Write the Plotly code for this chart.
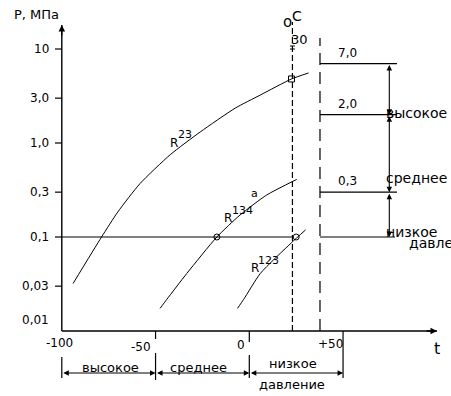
import math
import plotly.graph_objects as go

# ---------------- data ----------------
t_r23 = [-94.0, -78.8, -70.1, -58.3, -42.2, -26.2, -7.5, 5.9, 22.5, 31.6]
p_r23 = [0.032, 0.10, 0.185, 0.37, 0.75, 1.31, 2.35, 3.24, 4.80, 5.56]

t_r134 = [-47.6, -44.0, -33.3, -17.3, -5.0, 9.3, 25.3]
p_r134 = [0.0174, 0.0217, 0.041, 0.10, 0.171, 0.28, 0.41]

t_r123 = [-6.3, -3.0, 5.9, 22.5, 30.0]
p_r123 = [0.0174, 0.0217, 0.041, 0.087, 0.119]

pt_t = [22.5, -17.3, 25.0]
pt_p = [4.8, 0.1, 0.1]
pt_sym = ["square-open", "circle-open", "circle-open"]

y_tick_vals = [10, 3, 1, 0.3, 0.1, 0.03, 0.01]
y_tick_text = ["10", "3,0", "1,0", "0,3", "0,1", "0,03", "0,01"]
x_tick_vals = [-100, -50, 0, 50]
x_tick_text = ["-100", "-50", "0", "+50"]

levels = [7.0, 2.0, 0.3, 0.1]
level_text = ["7,0", "2,0", "0,3"]
level_names = ["высокое", "среднее", "низкое", "давление"]
bottom_zones = [(-100, -50, "высокое"), (-50, 0, "среднее"), (0, 50, "низкое")]

t_ref = 23.0      # short-dashed line (labelled 30 °C)
t_lim = 37.7      # long-dashed line
p_base = 0.1

# ---------------- geometry helpers ----------------
W, H = 451, 396
X0, SX = 249.3, 1.875        # pixel of t=0, px per degree
Y1, SY = 237.0, 94.0         # pixel of P=0.1, px per decade

def px2t(px):
    return (px - X0) / SX

def py2lg(py):
    return -1 + (Y1 - py) / SY

def pyp(py):
    return 1 - py / H

def pxp(px):
    return px / W

FONT = "DejaVu Sans"
fig = go.Figure()

def line(x, y, width=1.0, dash=None, shape="linear"):
    fig.add_trace(go.Scatter(x=x, y=y, mode="lines", hoverinfo="skip",
                             line=dict(color="black", width=width, dash=dash,
                                       shape=shape)))

# curves
for tt, pp in ((t_r23, p_r23), (t_r134, p_r134), (t_r123, p_r123)):
    line(tt, pp, 1.0, shape="spline")
for tr in fig.data:
    tr.line.smoothing = 0.6

# axes
p_top = 10 ** py2lg(25)
line([-100, -100], [0.01, p_top], 1.4)
t_right = px2t(437)
line([-100, t_right], [0.01, 0.01], 1.4)

# y ticks
tx, ty = [], []
for v in y_tick_vals[:-1]:
    tx += [px2t(55), -100, None]
    ty += [v, v, None]
line(tx, ty, 1.2)

# base 0.1 line (main field + right part)
line([-100, t_ref], [p_base, p_base], 1.2)
line([t_lim, px2t(395)], [p_base, p_base], 1.2)
# level lines on the right
for lv in levels[:-1]:
    line([t_lim, px2t(397)], [lv, lv], 1.2)

# dashed verticals
line([t_ref, t_ref], [0.01, 10 ** py2lg(22)], 1.2, "6px,3px")
line([t_lim, t_lim], [0.01, 10 ** py2lg(38)], 1.2, "12px,7px")
# small marks on the 30° line
line([t_ref - 1.3, t_ref + 1.3, None, t_ref - 1.3, t_ref + 1.3],
     [10 ** py2lg(46), 10 ** py2lg(46), None, 10 ** py2lg(49), 10 ** py2lg(49)], 1.0)

# points
fig.add_trace(go.Scatter(x=pt_t, y=pt_p, mode="markers", hoverinfo="skip",
                         marker=dict(symbol=pt_sym, size=6, color="black",
                                     line=dict(color="black", width=1))))

shapes = []
def vseg(t, py0, py1, w=1.2):
    shapes.append(dict(type="line", xref="x", yref="paper", x0=t, x1=t,
                       y0=pyp(py0), y1=pyp(py1), line=dict(color="black", width=w)))

# x ticks below axis and bracket verticals
vseg(-50, 331, 339)
vseg(0, 331, 342)
vseg(-100, 357, 378)
vseg(-50, 353, 380)
vseg(0, 355, 378)
vseg(50, 331, 378)

ann = []
def txt(px, py, s, size=12, xanchor="center"):
    ann.append(dict(xref="paper", yref="paper", x=pxp(px), y=pyp(py), text=s,
                    showarrow=False, xanchor=xanchor, yanchor="middle",
                    font=dict(family=FONT, size=size, color="black")))

# axis arrows
ann.append(dict(xref="x", yref="y", x=-100, y=math.log10(p_top), ax=0, ay=12,
                axref="pixel", ayref="pixel", text="", showarrow=True,
                arrowhead=2, arrowsize=1, arrowwidth=1.3, arrowcolor="black"))
ann.append(dict(xref="x", yref="y", x=t_right, y=-2, ax=-12, ay=0,
                axref="pixel", ayref="pixel", text="", showarrow=True,
                arrowhead=2, arrowsize=1, arrowwidth=1.3, arrowcolor="black"))

# bottom double arrows
for a, b, name in bottom_zones:
    ann.append(dict(xref="x", yref="paper", x=b, y=pyp(373), axref="x", ax=a,
                    ayref="pixel", ay=0, text="", showarrow=True,
                    arrowside="end+start", arrowhead=2, startarrowhead=2,
                    arrowsize=1, startarrowsize=1, arrowwidth=1.1,
                    arrowcolor="black", standoff=0, startstandoff=0))

# right vertical double arrows
t_arrow = px2t(389.3)
for hi, lo in zip(levels[:-1], levels[1:]):
    ann.append(dict(xref="x", yref="y", x=t_arrow, y=math.log10(lo),
                    axref="x", ax=t_arrow, ayref="y", ay=math.log10(hi),
                    text="", showarrow=True, arrowside="end+start",
                    arrowhead=2, startarrowhead=2, arrowsize=1, startarrowsize=1,
                    arrowwidth=1.1, arrowcolor="black", standoff=0, startstandoff=0))

# level labels
for lv, s in zip(levels[:-1], level_text):
    ann.append(dict(xref="x", yref="y", x=px2t(347), y=math.log10(lv), yshift=11,
                    text=s, showarrow=False, xanchor="center", yanchor="middle",
                    font=dict(family=FONT, size=12, color="black")))

# y tick labels
for v, s in zip(y_tick_vals, y_tick_text):
    ann.append(dict(xref="paper", yref="y", x=pxp(51), y=math.log10(v),
                    yshift=11 if v == 0.01 else 0, text=s, showarrow=False,
                    xanchor="right", yanchor="middle",
                    font=dict(family=FONT, size=12, color="black")))

# x tick labels
x_lab_pos = [(60, 343), (141, 347), (241, 345), (330, 344)]
for (px, py), s in zip(x_lab_pos, x_tick_text):
    txt(px, py, s, 12)
txt(437, 348, "t", 16)

txt(36, 15, "P, МПа", 13)
txt(287, 22, "o", 15)
txt(297, 16, "C", 14)
txt(299, 39, "30", 13)

# curve labels
txt(174, 143, "R", 12); txt(185, 135, "23", 11)
txt(228, 218, "R", 12); txt(242, 210, "134", 11)
txt(254, 193, "a", 11)
txt(255, 268, "R", 12); txt(268, 260, "123", 11)

# bottom zone labels
txt(110, 367, bottom_zones[0][2], 13)
txt(198, 367, bottom_zones[1][2], 13)
txt(293, 363, bottom_zones[2][2], 13)
txt(292, 384, level_names[3], 13)

# right zone labels
txt(384, 113, level_names[0], 14, "left")
txt(384, 178, level_names[1], 14, "left")
txt(384, 232, level_names[2], 14, "left")
txt(407, 243, level_names[3], 14, "left")

fig.update_layout(
    width=W, height=H, margin=dict(l=0, r=0, t=0, b=0),
    paper_bgcolor="white", plot_bgcolor="white", showlegend=False,
    xaxis=dict(range=[px2t(0), px2t(W)], visible=False, fixedrange=True),
    yaxis=dict(type="log", range=[py2lg(H), py2lg(0)], visible=False, fixedrange=True),
    shapes=shapes, annotations=ann,
)

fig.write_html("out.html", config={"displayModeBar": False, "staticPlot": True},
               post_script="document.body.style.margin='0';document.body.style.overflow='hidden';")
